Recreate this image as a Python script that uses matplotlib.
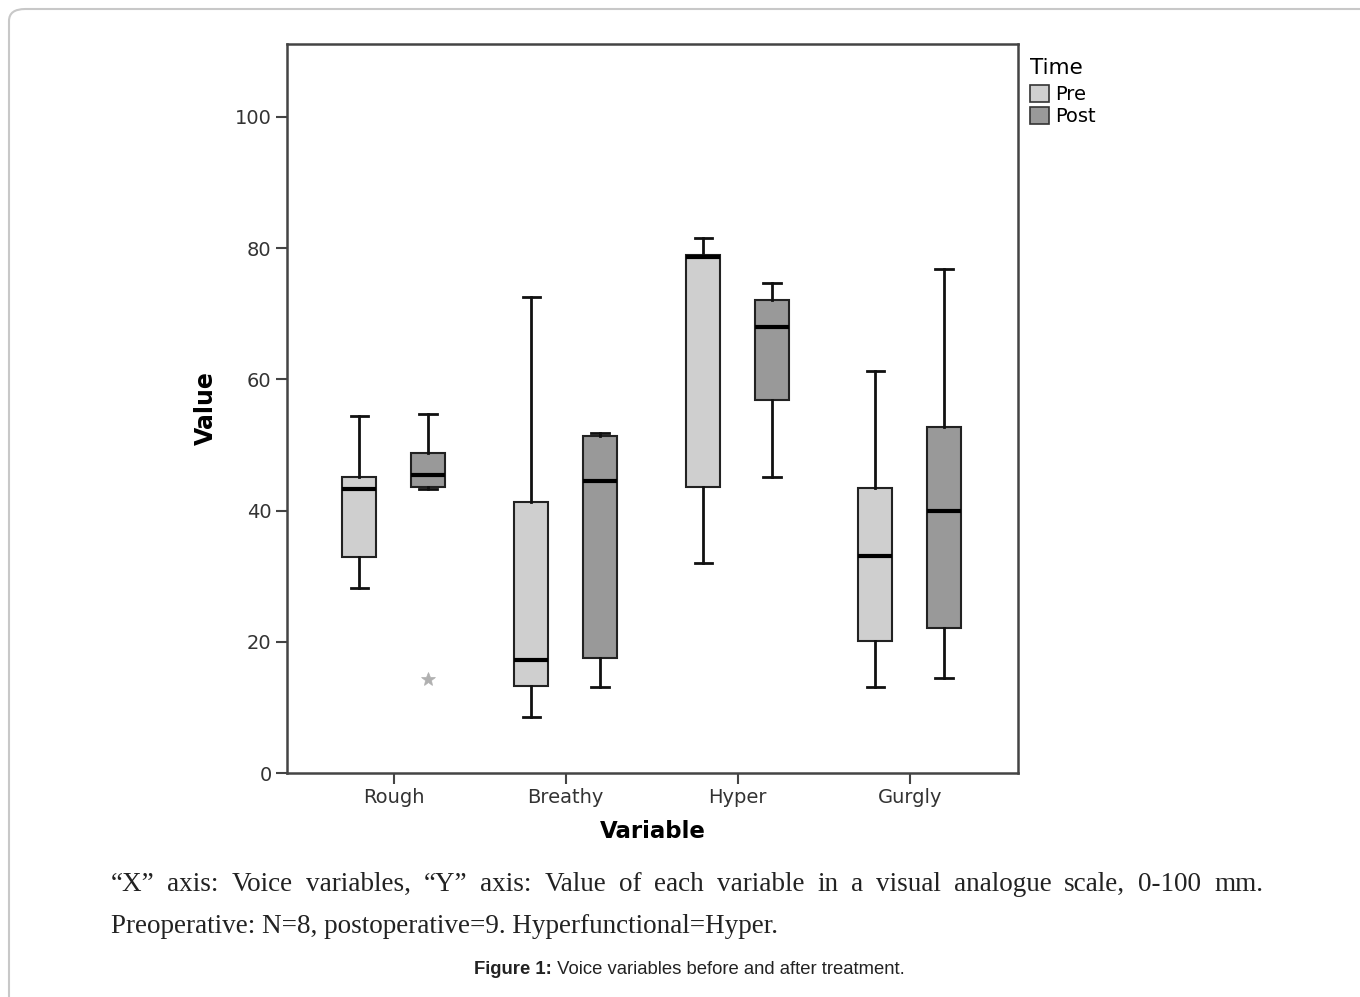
import matplotlib
matplotlib.use("Agg")
from matplotlib import pyplot as plt
from matplotlib.patches import FancyBboxPatch, Patch

categories = ["Rough", "Breathy", "Hyper", "Gurgly"]
groups = ["Pre", "Post"]

# whislo, q1, med, q3, whishi per category
pre_stats = [
    [28.2, 32.9, 43.3, 45.1, 54.4],
    [8.5, 13.3, 17.2, 41.3, 72.6],
    [32.0, 43.6, 78.7, 79.0, 81.6],
    [13.1, 20.1, 33.1, 43.4, 61.3],
]
post_stats = [
    [43.3, 43.6, 45.4, 48.8, 54.7],
    [13.1, 17.5, 44.5, 51.4, 51.8],
    [45.1, 56.9, 68.0, 72.1, 74.7],
    [14.5, 22.1, 39.9, 52.7, 76.8],
]
post_outliers = [[14.3], [], [], []]
pre_outliers = [[], [], [], []]

yticks = [0, 20, 40, 60, 80, 100]
colors = {"Pre": "#cfcfcf", "Post": "#999999"}

fig = plt.figure(figsize=(13.6, 9.97), dpi=100)

# rounded page border (bottom and right run off the page)
border = FancyBboxPatch((9 / 1360, -0.2), 1.2, 1.2 - 9 / 997, boxstyle="round,pad=0,rounding_size=0.012",
                        transform=fig.transFigure, fill=False, edgecolor="#c8c8c8", linewidth=1.5)
border.set_clip_on(False)
fig.patches.append(border)

ax = fig.add_axes([287 / 1360, 1 - 773 / 997, 731 / 1360, 729 / 997])


def make_stats(vals, fl):
    return {"whislo": vals[0], "q1": vals[1], "med": vals[2], "q3": vals[3],
            "whishi": vals[4], "fliers": fl}


for offset, stats, fliers, g in [(-0.2, pre_stats, pre_outliers, "Pre"),
                                 (0.2, post_stats, post_outliers, "Post")]:
    bstats = [make_stats(s, f) for s, f in zip(stats, fliers)]
    pos = [i + 1 + offset for i in range(len(categories))]
    ax.bxp(bstats, positions=pos, widths=0.2, patch_artist=True,
           boxprops=dict(facecolor=colors[g], edgecolor="#222222", linewidth=1.5),
           medianprops=dict(color="black", linewidth=3),
           whiskerprops=dict(color="#111111", linewidth=2),
           capprops=dict(color="#111111", linewidth=2),
           capwidths=0.1,
           flierprops=dict(marker="*", markersize=10, markerfacecolor="#b0b0b0",
                           markeredgecolor="#b0b0b0", markeredgewidth=0.5, linestyle="none"),
           manage_ticks=False)

ax.set_xlim(0.38, 4.63)
ax.set_ylim(0, 111.1)
ax.set_xticks(range(1, len(categories) + 1))
ax.set_xticklabels(categories)
ax.set_yticks(yticks)
for sp in ax.spines.values():
    sp.set_linewidth(1.8)
    sp.set_color("#444444")
ax.tick_params(axis="both", length=8, width=1.5, color="#444444", labelsize=14,
               labelcolor="#333333", pad=3)
ax.set_xlabel("Variable", fontsize=16.5, fontweight="bold", labelpad=9)
ax.set_ylabel("Value", fontsize=17, fontweight="bold", labelpad=12)

handles = [Patch(facecolor=colors[g], edgecolor="#333333", linewidth=1.2, label=g) for g in groups]
leg = ax.legend(handles=handles, title="Time", loc="upper left", bbox_to_anchor=(1.0, 0.997),
                frameon=False, fontsize=14, title_fontsize=15.5, handlelength=1.0, handleheight=1.0,
                handletextpad=0.3, labelspacing=0.15, borderpad=0.2, borderaxespad=0.4)
leg._legend_box.align = "left"
leg._legend_box.sep = 5

# caption paragraph (justified first line)
line1 = "\u201cX\u201d axis: Voice variables, \u201cY\u201d axis: Value of each variable in a visual analogue scale, 0-100 mm."
words = line1.split(" ")
x0, x1 = 111 / 1360, 1263 / 1360
y1 = 1 - 891 / 997
fig.canvas.draw()
rend = fig.canvas.get_renderer()
texts = []
for w in words:
    t = fig.text(0, y1, w, fontsize=19.5, family="Liberation Serif", va="baseline", color="#222222")
    texts.append(t)
widths = [t.get_window_extent(rend).width / 1360 for t in texts]
gap = (x1 - x0 - sum(widths)) / (len(words) - 1)
x = x0
for t, wd in zip(texts, widths):
    t.set_x(x)
    x += wd + gap

fig.text(x0, 1 - 933 / 997, "Preoperative: N=8, postoperative=9. Hyperfunctional=Hyper.",
         fontsize=19.5, family="Liberation Serif", va="baseline", color="#222222")

cap_b = fig.text(0, 1 - 969 / 997, "Figure 1:", fontsize=13.3, family="Liberation Sans",
                 fontweight="bold", va="center", color="#222222")
cap_r = fig.text(0, 1 - 969 / 997, " Voice variables before and after treatment.", fontsize=13.3,
                 family="Liberation Sans", va="center", color="#222222")
wb = cap_b.get_window_extent(rend).width / 1360
wr = cap_r.get_window_extent(rend).width / 1360
start = 0.5 * (473 + 906) / 1360 - (wb + wr) / 2
cap_b.set_x(start)
cap_r.set_x(start + wb)

fig.savefig("out.png", dpi=100)
